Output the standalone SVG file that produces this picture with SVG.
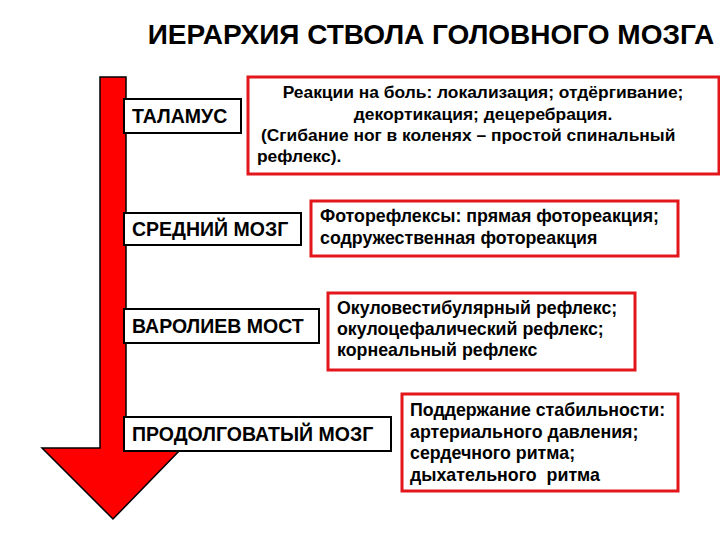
<svg xmlns="http://www.w3.org/2000/svg" width="720" height="540" viewBox="0 0 720 540">
<style>
text{font-family:"Liberation Sans",Arial,sans-serif;font-weight:bold;fill:#000}
.lvl rect{fill:#fff;stroke:#000;stroke-width:2}
.lvl text{font-size:19.5px}
.info rect{fill:#fff;stroke:#e3161c;stroke-width:3}
.info text{font-size:17.8px}
#info-thalamus text{font-size:17.4px}
</style>
<rect width="720" height="540" fill="#fff"/>
<text x="431" y="44" font-size="28" text-anchor="middle">ИЕРАРХИЯ СТВОЛА ГОЛОВНОГО МОЗГА</text>
<g id="arrow">
<path d="M100,77 H126 V448 H182 L113,519 L42,448 H100 Z" fill="#ff0000" stroke="#000" stroke-width="1.5" stroke-linejoin="miter"/>
</g>
<g id="thalamus" class="lvl"><rect x="124" y="99" width="117" height="34"/><text x="132" y="123">ТАЛАМУС</text></g>
<g id="midbrain" class="lvl"><rect x="124" y="213" width="177" height="32"/><text x="132" y="236">СРЕДНИЙ МОЗГ</text></g>
<g id="pons" class="lvl"><rect x="124" y="309" width="195" height="34"/><text x="132" y="333">ВАРОЛИЕВ МОСТ</text></g>
<g id="medulla" class="lvl"><rect x="124" y="417" width="267" height="34"/><text x="132" y="441">ПРОДОЛГОВАТЫЙ МОЗГ</text></g>
<g id="info-thalamus" class="info"><rect x="248" y="77" width="471" height="97"/>
<text x="483" y="98" text-anchor="middle">Реакции на боль: локализация; отдёргивание;</text>
<text x="483" y="120" text-anchor="middle">декортикация; децеребрация.</text>
<text x="261" y="141">(Сгибание ног в коленях – простой спинальный</text>
<text x="257" y="162">рефлекс).</text></g>
<g id="info-midbrain" class="info"><rect x="311" y="201" width="367" height="55"/>
<text x="320" y="222">Фоторефлексы: прямая фотореакция;</text>
<text x="320" y="244">содружественная фотореакция</text></g>
<g id="info-pons" class="info"><rect x="328" y="293" width="307" height="77"/>
<text x="337" y="314">Окуловестибулярный рефлекс;</text>
<text x="337" y="335">окулоцефалический рефлекс;</text>
<text x="337" y="356">корнеальный рефлекс</text></g>
<g id="info-medulla" class="info"><rect x="402" y="394" width="276" height="97"/>
<text x="410" y="416">Поддержание стабильности:</text>
<text x="410" y="438">артериального давления;</text>
<text x="410" y="459">сердечного ритма;</text>
<text x="410" y="481" xml:space="preserve">дыхательного  ритма</text></g>
<g id="connectors"/>
</svg>
